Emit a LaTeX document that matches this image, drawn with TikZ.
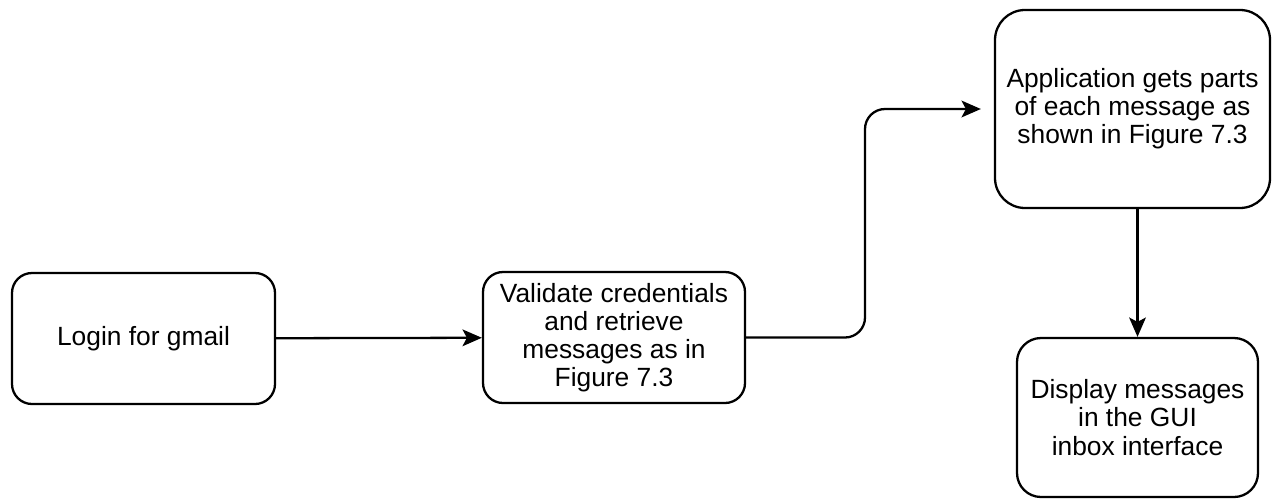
\documentclass[tikz,border=0pt]{standalone}
\usepackage{fontspec}
\setmainfont{Liberation Sans}
\usepackage{tikz}
\usetikzlibrary{arrows.meta}

\begin{document}
\begin{tikzpicture}[>={Stealth[length=11pt,width=9.5pt,inset=2.5pt]}, line width=1.3pt,
    stepbox/.style={draw, rounded corners=#1, align=center,
        font=\fontsize{15}{16}\selectfont, inner sep=0pt},
    stepbox/.default=0.4cm]
    % --- page size ---
    \useasboundingbox (0,0) rectangle (25.44,9.98);
    \node[stepbox, minimum width=5.26cm, minimum height=2.62cm]
        (login) at (2.87,3.21) {Login for gmail};
    \node[stepbox, minimum width=5.24cm, minimum height=2.62cm]
        (valid) at (12.28,3.23) {Validate credentials\\and retrieve\\messages as in\\Figure 7.3};
    \node[stepbox=0.6cm, minimum width=5.5cm, minimum height=3.96cm]
        (parts) at (22.65,7.8) {Application gets parts\\of each message as\\shown in Figure 7.3};
    \node[stepbox=0.48cm, minimum width=4.82cm, minimum height=3.18cm]
        (show) at (22.75,1.63) {Display messages\\in the GUI\\inbox interface};
    % --- connectors ---
    \draw[->] (login) -- (valid);
    \draw[->, rounded corners=0.4cm, shorten >=0.26cm]
        (valid.east) -- (17.3,0 |- valid.east) |- (parts.west);
    \draw[->] (parts.south -| show.north) -- (show.north);
\end{tikzpicture}
\end{document}
